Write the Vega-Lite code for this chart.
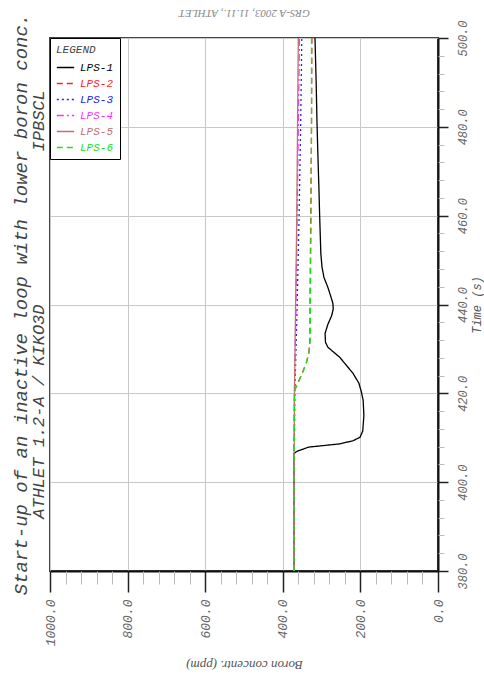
{
  "$schema": "https://vega.github.io/schema/vega-lite/v6.json",
  "width": 388,
  "height": 533,
  "autosize": "none",
  "padding": {"left": 50, "top": 38, "right": 46, "bottom": 108},
  "background": "white",
  "title": {
    "text": "Start-up of an inactive loop with lower boron conc.",
    "subtitle": "ATHLET 1.2-A / KIKO3D\u00a0\u00a0\u00a0\u00a0\u00a0\u00a0\u00a0\u00a0\u00a0\u00a0\u00a0\u00a0\u00a0\u00a0\u00a0IPBSCL",
    "orient": "left",
    "anchor": "middle",
    "font": "Liberation Mono",
    "fontStyle": "italic",
    "fontWeight": "normal",
    "fontSize": 19,
    "color": "#444",
    "subtitleFont": "Liberation Mono",
    "subtitleFontStyle": "italic",
    "subtitleFontSize": 17,
    "subtitleColor": "#444",
    "offset": -3,
    "subtitlePadding": 0
  },
  "config": {
    "view": {"stroke": "#444", "strokeWidth": 2}
  },
  "data": {
    "values": [
      {"s": "LPS-1", "t": 380, "c": 371}, {"s": "LPS-1", "t": 400, "c": 371}, {"s": "LPS-1", "t": 406.5, "c": 371},
      {"s": "LPS-1", "t": 407, "c": 362}, {"s": "LPS-1", "t": 407.9, "c": 333}, {"s": "LPS-1", "t": 408.6, "c": 255},
      {"s": "LPS-1", "t": 409.3, "c": 220}, {"s": "LPS-1", "t": 410.1, "c": 201}, {"s": "LPS-1", "t": 411.5, "c": 194},
      {"s": "LPS-1", "t": 415, "c": 191}, {"s": "LPS-1", "t": 418.5, "c": 193}, {"s": "LPS-1", "t": 420.5, "c": 198},
      {"s": "LPS-1", "t": 422.3, "c": 204}, {"s": "LPS-1", "t": 424.5, "c": 219}, {"s": "LPS-1", "t": 426.5, "c": 238},
      {"s": "LPS-1", "t": 428.1, "c": 253}, {"s": "LPS-1", "t": 429.5, "c": 272}, {"s": "LPS-1", "t": 430.4, "c": 284},
      {"s": "LPS-1", "t": 431.5, "c": 290}, {"s": "LPS-1", "t": 433.5, "c": 291}, {"s": "LPS-1", "t": 435.5, "c": 284},
      {"s": "LPS-1", "t": 437.5, "c": 274}, {"s": "LPS-1", "t": 439, "c": 270}, {"s": "LPS-1", "t": 440.3, "c": 271},
      {"s": "LPS-1", "t": 442, "c": 277}, {"s": "LPS-1", "t": 443.9, "c": 284}, {"s": "LPS-1", "t": 446.1, "c": 294},
      {"s": "LPS-1", "t": 448.5, "c": 299}, {"s": "LPS-1", "t": 451.5, "c": 302}, {"s": "LPS-1", "t": 460, "c": 305},
      {"s": "LPS-1", "t": 466.4, "c": 307}, {"s": "LPS-1", "t": 475, "c": 310}, {"s": "LPS-1", "t": 481.5, "c": 312},
      {"s": "LPS-1", "t": 490, "c": 314}, {"s": "LPS-1", "t": 500, "c": 317},
      {"s": "LPS-2", "t": 380, "c": 371}, {"s": "LPS-2", "t": 400, "c": 371}, {"s": "LPS-2", "t": 420, "c": 370},
      {"s": "LPS-2", "t": 421, "c": 368}, {"s": "LPS-2", "t": 423, "c": 358}, {"s": "LPS-2", "t": 425, "c": 348},
      {"s": "LPS-2", "t": 427, "c": 339}, {"s": "LPS-2", "t": 429, "c": 333}, {"s": "LPS-2", "t": 431, "c": 331},
      {"s": "LPS-2", "t": 433, "c": 330}, {"s": "LPS-2", "t": 440, "c": 330}, {"s": "LPS-2", "t": 460, "c": 328},
      {"s": "LPS-2", "t": 480, "c": 326}, {"s": "LPS-2", "t": 500, "c": 325},
      {"s": "LPS-3", "t": 380, "c": 372}, {"s": "LPS-3", "t": 400, "c": 371}, {"s": "LPS-3", "t": 420, "c": 369},
      {"s": "LPS-3", "t": 440, "c": 363}, {"s": "LPS-3", "t": 460, "c": 358}, {"s": "LPS-3", "t": 480, "c": 354},
      {"s": "LPS-3", "t": 500, "c": 351},
      {"s": "LPS-4", "t": 380, "c": 372}, {"s": "LPS-4", "t": 400, "c": 371}, {"s": "LPS-4", "t": 420, "c": 370},
      {"s": "LPS-4", "t": 440, "c": 366}, {"s": "LPS-4", "t": 460, "c": 363}, {"s": "LPS-4", "t": 480, "c": 360},
      {"s": "LPS-4", "t": 500, "c": 357},
      {"s": "LPS-5", "t": 380, "c": 371}, {"s": "LPS-5", "t": 400, "c": 371}, {"s": "LPS-5", "t": 420, "c": 370},
      {"s": "LPS-5", "t": 440, "c": 367}, {"s": "LPS-5", "t": 460, "c": 364}, {"s": "LPS-5", "t": 480, "c": 362},
      {"s": "LPS-5", "t": 500, "c": 360},
      {"s": "LPS-6", "t": 380, "c": 371}, {"s": "LPS-6", "t": 400, "c": 371}, {"s": "LPS-6", "t": 420, "c": 370},
      {"s": "LPS-6", "t": 421.2, "c": 367}, {"s": "LPS-6", "t": 423, "c": 357}, {"s": "LPS-6", "t": 425, "c": 347},
      {"s": "LPS-6", "t": 427, "c": 339}, {"s": "LPS-6", "t": 429, "c": 333}, {"s": "LPS-6", "t": 431, "c": 330},
      {"s": "LPS-6", "t": 433, "c": 329}, {"s": "LPS-6", "t": 440, "c": 329}, {"s": "LPS-6", "t": 460, "c": 327},
      {"s": "LPS-6", "t": 480, "c": 326}, {"s": "LPS-6", "t": 500, "c": 326}
    ]
  },
  "resolve": {"axis": {"x": "independent", "y": "independent"}},
  "layer": [
    {
      "mark": {"type": "line", "strokeWidth": 1.3},
      "encoding": {
        "x": {"field": "c", "type": "quantitative",
          "scale": {"domain": [0, 1000], "reverse": true, "nice": false, "zero": false},
          "axis": {"orient": "bottom", "values": [0, 200, 400, 600, 800, 1000], "format": ".1f",
            "title": "Boron concentr. (ppm)", "titleAngle": 180, "titleBaseline": "bottom",
            "titleFont": "Liberation Serif", "titleFontStyle": "italic", "titleFontWeight": "normal", "titleFontSize": 13, "titleColor": "#555", "titlePadding": 12,
            "labelAngle": 270, "labelAlign": "right", "labelBaseline": "middle",
            "labelFont": "Liberation Mono", "labelFontStyle": "italic", "labelFontSize": 13, "labelColor": "#666", "labelPadding": 7,
            "tickSize": 21, "tickColor": "#222", "tickWidth": 1.5, "domainColor": "#111", "domainWidth": 2,
            "grid": true, "gridColor": "#c8c8c8", "gridWidth": 1, "gridOpacity": 1}},
        "y": {"field": "t", "type": "quantitative",
          "scale": {"domain": [380, 500], "nice": false, "zero": false},
          "axis": {"orient": "right", "values": [380, 400, 420, 440, 460, 480, 500], "format": ".1f",
            "title": "Time (s)", "titleAngle": 270, "titleBaseline": "top",
            "titleFont": "Liberation Mono", "titleFontStyle": "italic", "titleFontWeight": "normal", "titleFontSize": 12, "titleColor": "#555", "titlePadding": 3,
            "labelAngle": 270, "labelAlign": "center", "labelBaseline": "top",
            "labelFont": "Liberation Mono", "labelFontStyle": "italic", "labelFontSize": 12, "labelColor": "#666", "labelPadding": 9,
            "tickSize": 10, "tickColor": "#222", "tickWidth": 1.5, "domainColor": "#111", "domainWidth": 2,
            "grid": true, "gridColor": "#c8c8c8", "gridWidth": 1, "gridOpacity": 1}},
        "color": {"field": "s", "type": "nominal",
          "scale": {"domain": ["LPS-1", "LPS-2", "LPS-3", "LPS-4", "LPS-5", "LPS-6"],
                    "range": ["#000000", "#ff2020", "#2020ff", "#ff30ff", "#c07070", "#20e020"]},
          "legend": {"title": "LEGEND", "orient": "top-left", "offset": 0, "direction": "vertical",
            "titleFont": "Liberation Mono", "titleFontStyle": "italic", "titleFontWeight": "normal", "titleFontSize": 11, "titleColor": "#444", "titlePadding": 3,
            "symbolType": "stroke", "symbolSize": 300, "symbolStrokeWidth": 1.5,
            "labelFont": "Liberation Mono", "labelFontStyle": "italic", "labelFontSize": 11, "labelOffset": 5,
            "labelColor": {"expr": "scale('color', datum.value)"},
            "rowPadding": 1, "padding": 6, "strokeColor": "black", "fillColor": "white"}},
        "strokeDash": {"field": "s", "type": "nominal",
          "scale": {"domain": ["LPS-1", "LPS-2", "LPS-3", "LPS-4", "LPS-5", "LPS-6"],
                    "range": [[1, 0], [6, 4], [2, 3], [7, 3, 2, 3], [1, 0], [6, 4]]},
          "legend": {"title": "LEGEND", "orient": "top-left", "offset": 0, "direction": "vertical",
            "titleFont": "Liberation Mono", "titleFontStyle": "italic", "titleFontWeight": "normal", "titleFontSize": 11, "titleColor": "#444", "titlePadding": 3,
            "symbolType": "stroke", "symbolSize": 300, "symbolStrokeWidth": 1.5,
            "labelFont": "Liberation Mono", "labelFontStyle": "italic", "labelFontSize": 11, "labelOffset": 5,
            "labelColor": {"expr": "scale('color', datum.value)"},
            "rowPadding": 1, "padding": 6, "strokeColor": "black", "fillColor": "white"}},
        "order": {"field": "t", "type": "quantitative"}
      }
    },
    {
      "mark": {"type": "point", "opacity": 0},
      "encoding": {
        "x": {"field": "c", "type": "quantitative",
          "scale": {"domain": [0, 1000], "reverse": true, "nice": false, "zero": false},
          "axis": {"orient": "bottom", "values": [40, 80, 120, 160, 240, 280, 320, 360, 440, 480, 520, 560, 640, 680, 720, 760, 840, 880, 920, 960],
            "tickSize": 13, "tickColor": "#bbb", "tickWidth": 1, "labels": false, "domain": false, "grid": false, "title": null}},
        "y": {"field": "t", "type": "quantitative",
          "scale": {"domain": [380, 500], "nice": false, "zero": false},
          "axis": {"orient": "right", "values": [384, 388, 392, 396, 404, 408, 412, 416, 424, 428, 432, 436, 444, 448, 452, 456, 464, 468, 472, 476, 484, 488, 492, 496],
            "tickSize": 6, "tickColor": "#bbb", "tickWidth": 1, "labels": false, "domain": false, "grid": false, "title": null}}
      }
    },
    {
      "mark": {"type": "point", "opacity": 0},
      "encoding": {
        "x": {"field": "c", "type": "quantitative",
          "scale": {"domain": [0, 1000], "reverse": true, "nice": false, "zero": false},
          "axis": {"orient": "top", "ticks": false, "labels": false, "domain": false, "grid": false,
            "title": "GRS-A 2003, 11.11., ATHLET", "titleAngle": 180, "titleBaseline": "top",
            "titleFont": "Liberation Serif", "titleFontStyle": "italic", "titleFontWeight": "normal", "titleFontSize": 11, "titleColor": "#888", "titlePadding": 20}},
        "y": {"field": "t", "type": "quantitative",
          "scale": {"domain": [380, 500], "nice": false, "zero": false},
          "axis": null}
      }
    }
  ]
}
